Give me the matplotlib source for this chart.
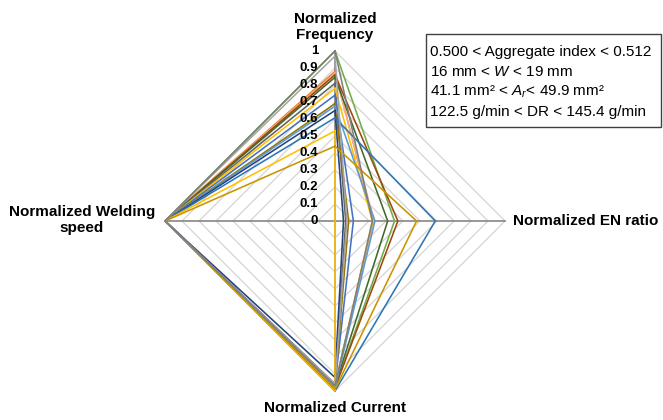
import numpy as np
import matplotlib.pyplot as plt
from matplotlib.patches import Rectangle

plt.rcParams['font.family'] = ['Liberation Sans', 'DejaVu Sans']
plt.rcParams['mathtext.fontset'] = 'custom'
plt.rcParams['mathtext.rm'] = 'Liberation Sans'
plt.rcParams['mathtext.it'] = 'Liberation Sans:italic'

# normalized process parameters, one entry per weld in the selected index band
frequency     = [1.00, 0.88, 0.87, 0.86, 0.845, 0.81, 0.78, 0.74, 0.69, 0.675, 0.65, 0.607, 0.53, 0.44, 0.97, 1.00]
en_ratio      = [0.35, 0.225, 0.23, 0.37, 0.31, 0.063, 0.22, 0.108, 0.08, 0.235, 0.05, 0.59, 0.0, 0.48, 0.07, 0.22]
current       = [0.98, 0.97, 0.96, 0.98, 0.97, 0.96, 0.97, 0.96, 0.97, 0.98, 0.92, 1.00, 1.00, 0.99, 0.96, 0.97]
welding_speed = [1.00, 1.00, 1.00, 1.00, 1.00, 1.00, 1.00, 1.00, 1.00, 1.00, 1.00, 1.00, 1.00, 1.00, 1.00, 1.00]
colors = ['#70AD47', '#ED7D31', '#F4B183', '#9E480E', '#43682B', '#636363', '#FFC000', '#4472C4',
          '#997300', '#5B9BD5', '#264478', '#2E75B6', '#FFC000', '#C99400', '#A5A5A5', '#7F7F7F']

ticks = [0, 0.1, 0.2, 0.3, 0.4, 0.5, 0.6, 0.7, 0.8, 0.9, 1.0]
tick_labels = ['0', '0.1', '0.2', '0.3', '0.4', '0.5', '0.6', '0.7', '0.8', '0.9', '1']

box_lines = [
    '0.500 < Aggregate index < 0.512',
    r'16 mm < $\mathit{W}$ < 19 mm',
    r'41.1 mm² < $\mathit{A_r}$< 49.9 mm²',
    '122.5 g/min < DR < 145.4 g/min',
]

fig = plt.figure(figsize=(6.63, 4.2), dpi=100)
ax = fig.add_axes([165 / 663, 29 / 420, 340 / 663, 340 / 420], projection='polar')
ax.set_theta_zero_location('N')
ax.set_theta_direction(-1)
ax.set_ylim(0, 1)
ax.axis('off')

# frequency (top), EN ratio (right), current (bottom), welding speed (left)
theta = np.deg2rad([0, 90, 180, 270, 0])

# diamond grid
for lvl in ticks[1:]:
    ax.plot(theta, [lvl] * 5, color='#D4D4D4', lw=0.9, zorder=1, clip_on=False)
for t in theta[:4]:
    ax.plot([t, t], [0, 1], color='#868686', lw=1.2, zorder=1.5, clip_on=False)

for f, en, c, s, col in zip(frequency, en_ratio, current, welding_speed, colors):
    ax.plot(theta, [f, en, c, s, f], color=col, lw=1.15, zorder=2, clip_on=False)

for v, lab in zip(ticks, tick_labels):
    ax.annotate(lab, xy=(0, v), xytext=(-12, 0), textcoords='offset points',
                ha='right', va='center', fontsize=9.5, fontweight='bold',
                annotation_clip=False, zorder=3)

fig.text(335 / 663, 1 - 27 / 420, 'Normalized\nFrequency', ha='center', va='center',
         fontsize=11, fontweight='bold', linespacing=1.2)
fig.text(513 / 663, 1 - 221 / 420, 'Normalized EN ratio', ha='left', va='center',
         fontsize=11, fontweight='bold')
fig.text(335 / 663, 1 - 408 / 420, 'Normalized Current', ha='center', va='center',
         fontsize=11, fontweight='bold')
fig.text(82 / 663, 1 - 220 / 420, 'Normalized Welding\nspeed', ha='center', va='center',
         fontsize=11, fontweight='bold', multialignment='center', linespacing=1.25)

# parameter ranges box
fig.patches.append(Rectangle((426 / 663, 1 - 127 / 420), 235 / 663, 93 / 420,
                             transform=fig.transFigure, fill=False, ec='#404040', lw=1))
for i, line in enumerate(box_lines):
    fig.text(430 / 663, 1 - (51.7 + 20 * i) / 420, line, ha='left', va='center', fontsize=11)

fig.savefig('out.png', dpi=100)
